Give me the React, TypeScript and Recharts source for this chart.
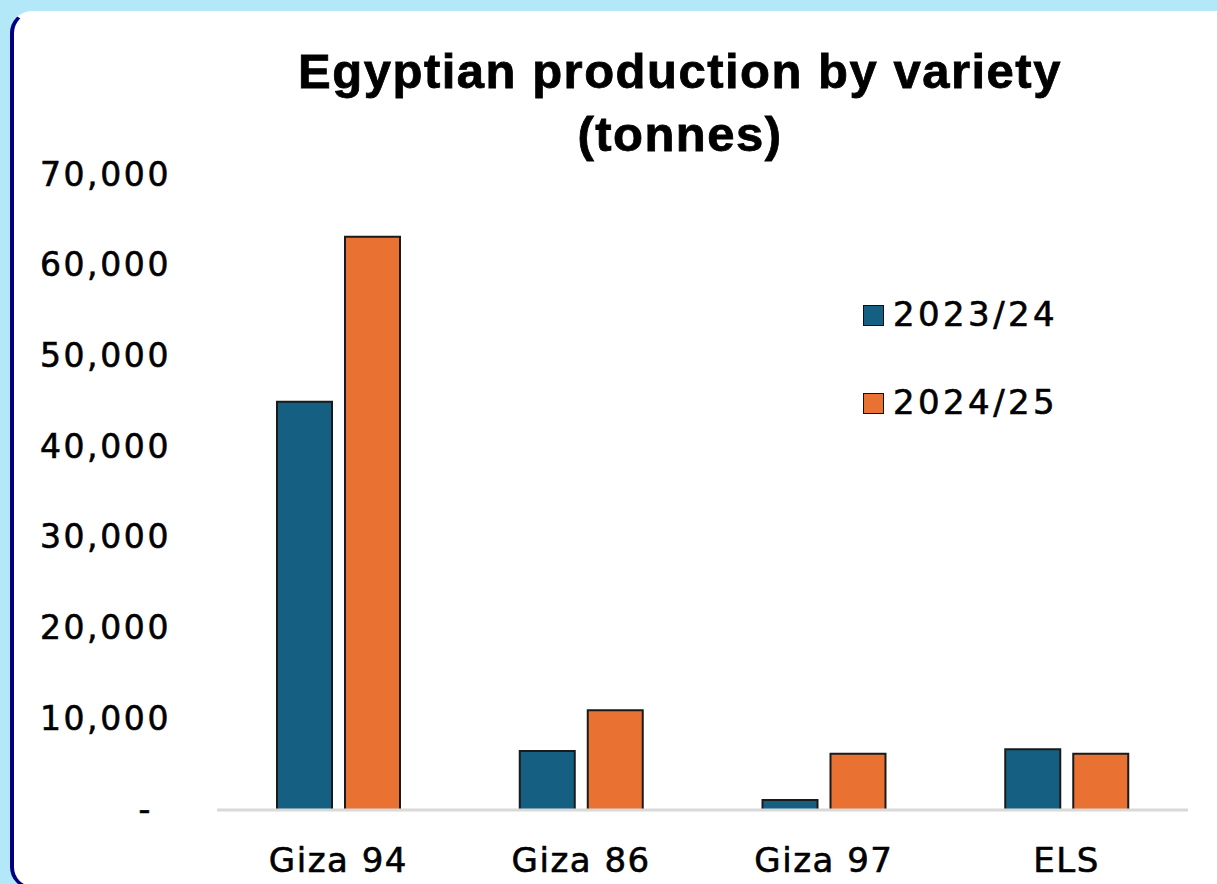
import { BarChart, Bar, XAxis, YAxis, Legend } from 'recharts'

const CATEGORIES = ['Giza 94', 'Giza 86', 'Giza 97', 'ELS']
const PROD_2023_24 = [45000, 6500, 1100, 6700]
const PROD_2024_25 = [63200, 11000, 6200, 6200]
const Y_TICKS = [0, 10000, 20000, 30000, 40000, 50000, 60000, 70000]

const SERIES = [
  { key: '2023/24', values: PROD_2023_24, color: '#156082' },
  { key: '2024/25', values: PROD_2024_25, color: '#e97132' },
]

const data = CATEGORIES.map((name, i) => {
  const row: Record<string, string | number> = { name }
  SERIES.forEach((s) => {
    row[s.key] = s.values[i]
  })
  return row
})

const FONT = '"DejaVu Sans", sans-serif'

function fmt(v: number) {
  return v === 0 ? '-' : v.toLocaleString('en-US')
}

function YTick(props: any) {
  const { x, y, payload } = props
  const dash = payload.value === 0
  return (
    <text
      x={dash ? x - 18 : x}
      y={y}
      dy="0.32em"
      textAnchor="end"
      fill="#000"
      stroke="#000"
      strokeWidth={0.6}
      style={{ fontFamily: FONT, fontSize: 33, letterSpacing: 2.6 }}
    >
      {fmt(payload.value)}
    </text>
  )
}

function XTick(props: any) {
  const { x, y, payload } = props
  return (
    <text
      x={x}
      y={y}
      dy="0.71em"
      textAnchor="middle"
      fill="#000"
      stroke="#000"
      strokeWidth={0.6}
      style={{ fontFamily: FONT, fontSize: 34, letterSpacing: 1.5 }}
    >
      {payload.value}
    </text>
  )
}

function LegendBox() {
  return (
    <div>
      {SERIES.map((s, i) => (
        <div
          key={s.key}
          style={{
            display: 'flex',
            alignItems: 'center',
            height: 40,
            marginBottom: i === 0 ? 48 : 0,
          }}
        >
          <span
            style={{
              width: 19,
              height: 19,
              background: s.color,
              border: '1.5px solid #111',
              marginRight: 9,
              marginTop: 2,
            }}
          />
          <span
            style={{
              fontFamily: FONT,
              fontSize: 34,
              letterSpacing: 3.4,
              color: '#000',
              WebkitTextStroke: '0.6px #000',
            }}
          >
            {s.key}
          </span>
        </div>
      ))}
    </div>
  )
}

export default function App() {
  return (
    <div
      style={{
        position: 'fixed',
        left: 0,
        top: 0,
        width: 1217,
        height: 884,
        overflow: 'hidden',
        background: '#b3e8f9',
      }}
    >
      <div
        style={{
          position: 'absolute',
          left: 10,
          top: 11,
          width: 1260,
          height: 878,
          background: '#fff',
          border: '3px solid #000080',
          borderLeftWidth: 4,
          borderTopColor: 'transparent',
          borderRadius: 22,
          boxSizing: 'border-box',
        }}
      />
      <div
        style={{
          position: 'absolute',
          left: 180,
          top: 40,
          width: 1000,
          textAlign: 'center',
          fontFamily: '"Liberation Sans", Arial, sans-serif',
          fontWeight: 900,
          fontSize: 49,
          letterSpacing: 1.5,
          lineHeight: '63px',
          color: '#000',
          WebkitTextStroke: '0.8px #000',
        }}
      >
        Egyptian production by variety
        <br />
        (tonnes)
      </div>
      <div style={{ position: 'absolute', left: 0, top: 0 }}>
        <BarChart
          width={1217}
          height={884}
          data={data}
          margin={{ top: 175, right: 29, bottom: 0, left: 0 }}
          barSize={55}
          barGap={13}
        >
          <YAxis
            width={217}
            domain={[0, 70000]}
            ticks={Y_TICKS}
            tick={<YTick />}
            tickLine={false}
            axisLine={false}
            tickSize={0}
            tickMargin={46}
            interval={0}
          />
          <XAxis
            dataKey="name"
            height={74}
            tick={<XTick />}
            tickLine={false}
            axisLine={{ stroke: '#d9d9d9', strokeWidth: 3 }}
            tickSize={0}
            tickMargin={38}
          />
          <Legend
            layout="vertical"
            verticalAlign="middle"
            align="center"
            content={<LegendBox />}
            wrapperStyle={{ position: 'absolute', left: 863, top: 294, width: 260 }}
          />
          {SERIES.map((s) => (
            <Bar
              key={s.key}
              dataKey={s.key}
              fill={s.color}
              stroke="#1a1a1a"
              strokeWidth={2}
              isAnimationActive={false}
            />
          ))}
        </BarChart>
      </div>
    </div>
  )
}
